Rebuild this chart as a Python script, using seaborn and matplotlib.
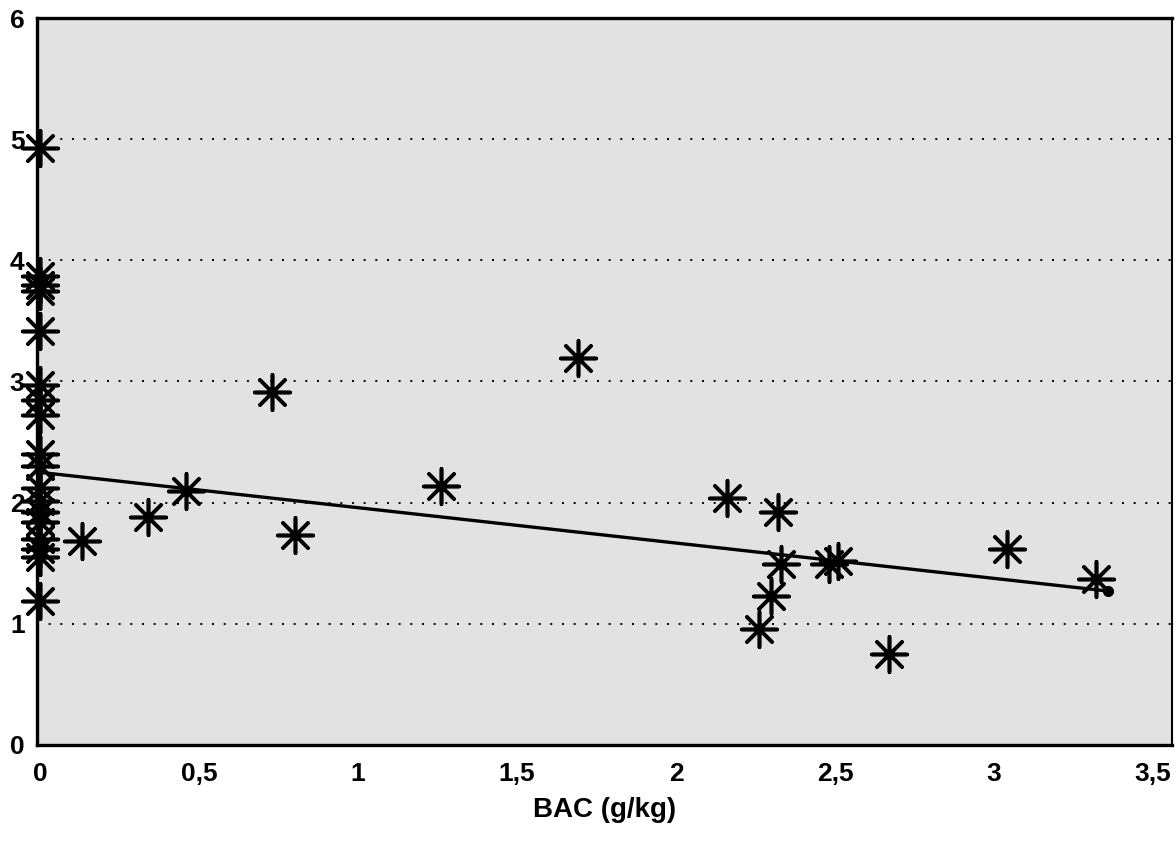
import matplotlib
matplotlib.use("Agg")
import matplotlib.pyplot as plt
import seaborn as sns
import pandas as pd

# BAC (g/kg) vs value
bac = [0, 0, 0, 0, 0, 0, 0, 0, 0, 0, 0, 0, 0, 0, 0, 0, 0, 0,
       0.13, 0.34, 0.46, 0.73, 0.80, 1.26, 1.69,
       2.16, 2.32, 2.33, 2.30, 2.26, 2.48, 2.51, 2.67, 3.04, 3.32]
val = [4.93, 3.87, 3.80, 3.75, 3.42, 2.97, 2.85, 2.72, 2.40, 2.30, 2.12, 2.01, 1.92, 1.84, 1.70, 1.62, 1.55, 1.19,
       1.68, 1.88, 2.10, 2.91, 1.73, 2.14, 3.19,
       2.04, 1.92, 1.49, 1.23, 0.96, 1.49, 1.52, 0.75, 1.62, 1.37]

# fitted line end points
line_x = [0, 3.36]
line_y = [2.25, 1.27]

xticks = [0, 0.5, 1, 1.5, 2, 2.5, 3, 3.5]
xtick_labels = ["0", "0,5", "1", "1,5", "2", "2,5", "3", "3,5"]
yticks = [0, 1, 2, 3, 4, 5, 6]

df = pd.DataFrame({"BAC": bac, "val": val})
fit = pd.DataFrame({"x": line_x, "y": line_y})

sns.set_style("white")
plt.rcParams['font.family'] = ['Liberation Sans', 'DejaVu Sans']

fig = plt.figure(figsize=(11.75, 8.43), dpi=100)
ax = fig.add_axes([0.0315, 0.1163, 0.966, 0.8623])
ax.set_facecolor("#e2e2e2")

# dotted horizontal grid
for yy in yticks[1:-1]:
    ax.axhline(yy, color="black", lw=1.4, ls=(0, (1, 5)), zorder=1)

sns.lineplot(data=fit, x="x", y="y", color="black", lw=2.4, ax=ax, zorder=3)
ax.plot(line_x[-1], line_y[-1], "o", color="black", ms=7, zorder=3)

sns.scatterplot(data=df, x="BAC", y="val", marker=(8, 2, 0), s=650,
                color="black", linewidth=2.6, ax=ax, zorder=4, clip_on=False)

ax.set_xlim(-0.01, 3.56)
ax.set_ylim(0, 6)
ax.set_xticks(xticks)
ax.set_xticklabels(xtick_labels)
ax.set_yticks(yticks)
ax.tick_params(axis="both", length=0, labelsize=19, labelcolor="black")
ax.tick_params(axis="x", pad=12)
ax.tick_params(axis="y", pad=9)
for lab in ax.get_xticklabels() + ax.get_yticklabels():
    lab.set_fontweight("bold")

ax.set_xlabel("BAC (g/kg)", fontsize=20, fontweight="bold", color="black", labelpad=8)
ax.set_ylabel("")

for side in ["left", "bottom", "top"]:
    ax.spines[side].set_linewidth(2.4)
    ax.spines[side].set_color("black")
ax.spines["right"].set_linewidth(1.5)
ax.spines["right"].set_color("black")

fig.savefig("out.png", dpi=100)
plt.close()
